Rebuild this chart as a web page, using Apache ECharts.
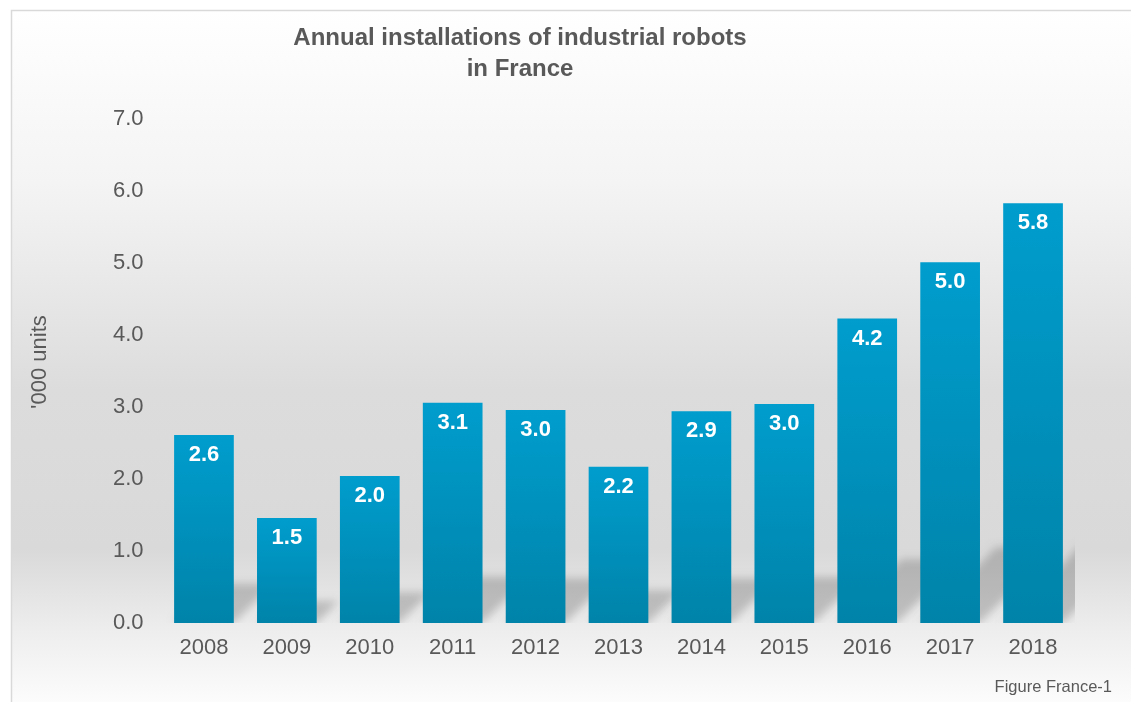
<!DOCTYPE html>
<html>
<head>
<meta charset="utf-8">
<script src="https://cdn.jsdelivr.net/npm/echarts@6/dist/echarts.min.js"></script>
<style>
  html, body { margin: 0; padding: 0; background: #ffffff; }
  #chart { width: 1131px; height: 702px; }
</style>
</head>
<body>
<div id="chart"></div>
<script>
// Annual installations of industrial robots in France, thousands of units
const years = ['2008', '2009', '2010', '2011', '2012', '2013', '2014', '2015', '2016', '2017', '2018'];
const installations = [2.61, 1.46, 2.04, 3.06, 2.96, 2.17, 2.94, 3.04, 4.23, 5.01, 5.83];
const yTicks = [0, 1, 2, 3, 4, 5, 6, 7];

const titleLines = ['Annual installations of industrial robots', 'in France'];
const yAxisName = "'000 units";
const figureNote = 'Figure France-1';

const FONT = '"Liberation Sans", Arial, sans-serif';
const TEXT = '#595959';
const BAR_RATIO = 0.72;
// The shadow shape is drawn off to the side and only its blurred shadow is
// shifted back under the bars, so the whole shadow comes out soft.
const SHIFT = 3000;

const chart = echarts.init(document.getElementById('chart'), null, { renderer: 'canvas' });

// Perspective floor shadow cast by each bar, skewed up and to the right
function renderShadow(params, api) {
  const i = api.value(0);
  const v = api.value(1);
  const base = api.coord([i, 0]);
  const top = api.coord([i, v]);
  const band = api.size([1, 0])[0];
  const w = band * BAR_RATIO;
  const h = (base[1] - top[1]) * 0.21;
  const xl = base[0] - w / 2 - SHIFT;
  const xr = base[0] + w / 2 - SHIFT;
  const y0 = base[1];
  return {
    type: 'polygon',
    shape: { points: [[xl, y0], [xr, y0], [xr + h, y0 - h], [xl + h, y0 - h]] },
    style: {
      fill: '#000000',
      shadowBlur: 9,
      shadowOffsetX: SHIFT,
      shadowColor: 'rgba(0,0,0,0.19)'
    }
  };
}

const option = {
  animation: false,
  graphic: [
    {
      type: 'rect',
      z: -100,
      silent: true,
      shape: { x: 11.5, y: 10.5, width: 1200, height: 760 },
      style: {
        stroke: '#d9d9d9',
        lineWidth: 1.5,
        fill: {
          type: 'linear', x: 0, y: 10, x2: 0, y2: 702, global: true,
          colorStops: [
            { offset: 0, color: '#ffffff' },
            { offset: 0.25, color: '#f4f4f4' },
            { offset: 0.55, color: '#dcdcdc' },
            { offset: 0.78, color: '#d9d9d9' },
            { offset: 0.9, color: '#eeeeee' },
            { offset: 1, color: '#fcfcfc' }
          ]
        }
      }
    },
    {
      type: 'text', x: 520, y: 38,
      style: { text: titleLines[0], font: 'bold 24px ' + FONT, fill: TEXT, textAlign: 'center', textVerticalAlign: 'middle' }
    },
    {
      type: 'text', x: 520, y: 69,
      style: { text: titleLines[1], font: 'bold 24px ' + FONT, fill: TEXT, textAlign: 'center', textVerticalAlign: 'middle' }
    },
    {
      type: 'text', x: 40, y: 362, rotation: Math.PI / 2,
      style: { text: yAxisName, font: '22px ' + FONT, fill: TEXT, textAlign: 'center', textVerticalAlign: 'middle' }
    },
    {
      type: 'text', x: 1112, y: 687,
      style: { text: figureNote, font: '16.5px ' + FONT, fill: TEXT, textAlign: 'right', textVerticalAlign: 'middle' }
    }
  ],
  grid: { left: 162.5, right: 56.5, top: 119, bottom: 79, containLabel: false },
  xAxis: {
    type: 'category',
    data: years,
    axisLine: { show: false },
    axisTick: { show: false },
    axisLabel: { color: TEXT, fontFamily: FONT, fontSize: 22, margin: 14 }
  },
  yAxis: {
    type: 'value',
    min: yTicks[0],
    max: yTicks[yTicks.length - 1],
    interval: 1,
    axisLine: { show: false },
    axisTick: { show: false },
    splitLine: { show: false },
    axisLabel: {
      color: TEXT, fontFamily: FONT, fontSize: 22, margin: 19,
      formatter: (v) => v.toFixed(1)
    }
  },
  series: [
    {
      type: 'custom',
      z: 1,
      clip: true,
      silent: true,
      renderItem: renderShadow,
      data: installations.map((v, i) => [i, v])
    },
    {
      type: 'bar',
      z: 3,
      data: installations,
      barWidth: (BAR_RATIO * 100) + '%',
      itemStyle: {
        color: {
          type: 'linear', x: 0, y: 0, x2: 0, y2: 1,
          colorStops: [
            { offset: 0, color: '#009dcd' },
            { offset: 1, color: '#0083a9' }
          ]
        }
      },
      label: {
        show: true,
        position: 'insideTop',
        distance: 9,
        color: '#ffffff',
        fontFamily: FONT,
        fontWeight: 'bold',
        fontSize: 22,
        formatter: (p) => p.value.toFixed(1)
      }
    }
  ]
};

chart.setOption(option);
</script>
</body>
</html>
